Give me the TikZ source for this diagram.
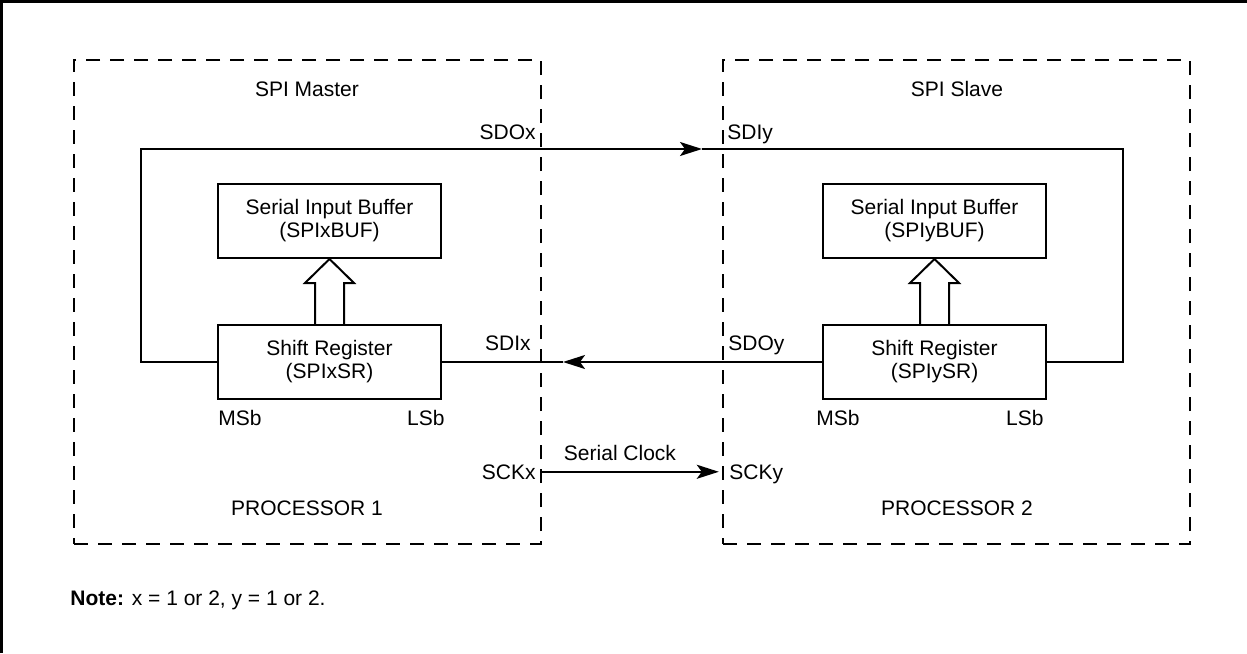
\documentclass[tikz,border=0pt]{standalone}
\usepackage{fontspec}
\setmainfont{Liberation Sans}
\usetikzlibrary{arrows.meta,calc}

\begin{document}
\begin{tikzpicture}[x=0.5pt, y=-0.5pt,
    every node/.style={font=\fontsize{10.5}{11.5}\selectfont, inner sep=0pt},
    reg/.style={draw, line width=1pt, minimum width=111.5pt, minimum height=37pt, align=center},
    proc/.style={draw, dash pattern=on 7pt off 5pt, line width=1.2pt, minimum width=233.5pt, minimum height=242pt},
    wire/.style={line width=1pt},
    sigarrow/.style={-{Stealth[length=11pt, width=7pt, inset=2.5pt]}}]
            \useasboundingbox (0,0) rectangle (1247,653);

            % Frame
            \draw[line width=1.35pt] (1.3,653) -- (1.3,1.3) -- (1247,1.3);

            % Processors
            \node[proc] (proc1) at (307.5,302) {};
            \node[proc] (proc2) at (956.5,302) {};
            \node[anchor=base] (mtitle) at (307,96) {SPI Master};
            \node[anchor=base] (stitle) at (957,96) {SPI Slave};
            \node[anchor=base] (cpu1) at (307,515) {PROCESSOR 1};
            \node[anchor=base] (cpu2) at (957,515) {PROCESSOR 2};

            % Registers
            \node[reg] (mbuf) at (329.5,221) {Serial Input Buffer\\(SPIxBUF)};
            \node[reg] (msr) at (329.5,362) {Shift Register\\(SPIxSR)};
            \node[reg] (sbuf) at (934.5,221) {Serial Input Buffer\\(SPIyBUF)};
            \node[reg] (ssr) at (934.5,362) {Shift Register\\(SPIySR)};

            % Bit order
            \node[anchor=base west] (mmsb) at (218,425) {MSb};
            \node[anchor=base east] (mlsb) at (445,425) {LSb};
            \node[anchor=base west] (smsb) at (816,425) {MSb};
            \node[anchor=base east] (slsb) at (1044,425) {LSb};

            % Pins
            \node[anchor=base east] (sdox) at (536,139) {SDOx};
            \node[anchor=base west] (sdiy) at (727,139) {SDIy};
            \node[anchor=base east] (sdix) at (531,350) {SDIx};
            \node[anchor=base west] (sdoy) at (728,350) {SDOy};
            \node[anchor=base east] (sckx) at (536,479) {SCKx};
            \node[anchor=base west] (scky) at (729,479) {SCKy};
            \node[anchor=base] (sclk) at (620,460) {Serial Clock};

            % Note
            \node[anchor=base west] (note) at (70,605) {\bfseries Note:\mdseries{} x = 1 or 2, y = 1 or 2.};

            % Bends and arrow tips
            \coordinate (mloop) at (141,149);
            \coordinate (sloop) at (1123,149);
            \coordinate (sdotip) at (702,149);
            \coordinate (sditip) at (563,362);

            % Data lines
            \draw[wire, sigarrow] (msr.west) -| (mloop) -- (sdotip);
            \draw[wire] (sdotip) -- (sloop) |- (ssr.east);
            \draw[wire, sigarrow] (ssr.west) -- (sditip);
            \draw[wire] (sditip) -- (msr.east);
            \draw[wire, sigarrow] (proc1.east |- sckx) -- ([xshift=-1.5pt]proc2.west |- sckx);

            % Hollow arrows
            \draw[wire] ($(msr.north)+(-14.5,0)$) |- ($(mbuf.south)+(-24.5,24)$) -- (mbuf.south) -- ++(24.5,24) -| ($(msr.north)+(14.5,0)$);
            \draw[wire] ($(ssr.north)+(-14.5,0)$) |- ($(sbuf.south)+(-24.5,24)$) -- (sbuf.south) -- ++(24.5,24) -| ($(ssr.north)+(14.5,0)$);
        \end{tikzpicture}
\end{document}
